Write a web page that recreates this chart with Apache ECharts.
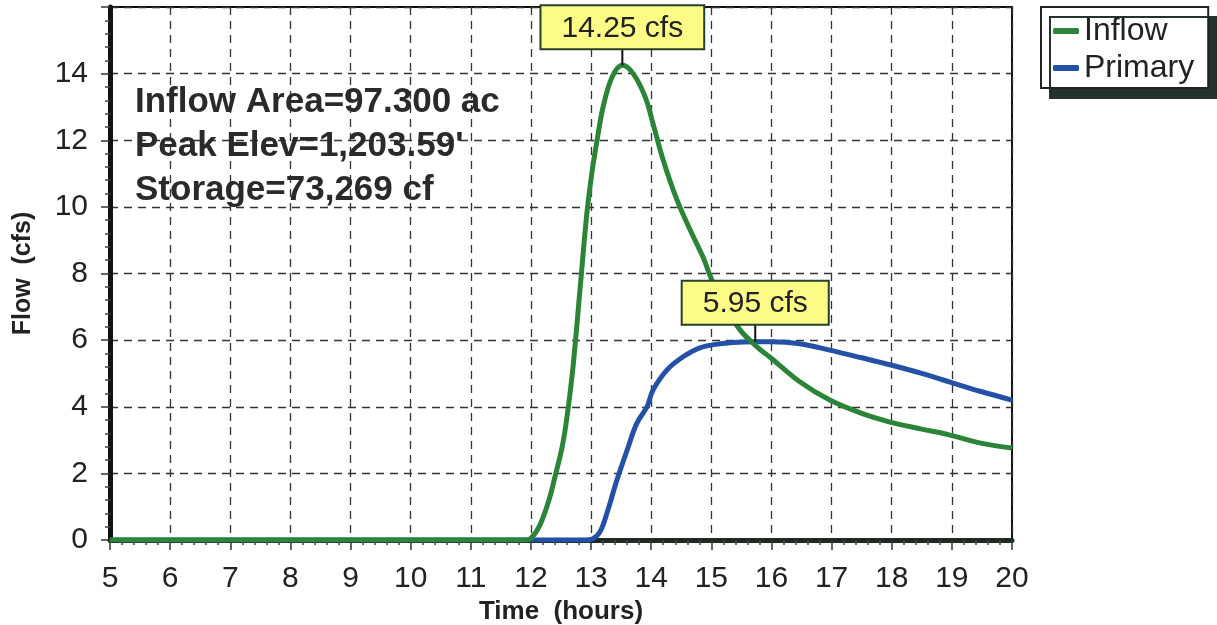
<!DOCTYPE html>
<html>
<head>
<meta charset="utf-8">
<script src="https://cdn.jsdelivr.net/npm/echarts@6/dist/echarts.min.js"></script>
<style>
html,body{margin:0;padding:0;background:#fff;}
#c{width:1217px;height:625px;}
</style>
</head>
<body>
<div id="c"></div>
<script>
// ---- data ----
const seriesNames = ['Inflow', 'Primary'];
const inflowTime = [5, 6, 7, 8, 9, 10, 11, 11.9, 12.0, 12.15, 12.3, 12.4, 12.52, 12.6, 12.7, 12.82, 12.93, 13.02, 13.1, 13.2, 13.35, 13.52, 13.7, 13.9, 14.03, 14.2, 14.43, 14.65, 14.86, 15.01, 15.2, 15.48, 15.76, 16.0, 16.47, 16.97, 17.5, 17.97, 18.5, 18.97, 19.5, 20];
const inflowFlow = [0, 0, 0, 0, 0, 0, 0, 0, 0.05, 0.45, 1.2, 1.9, 2.8, 3.7, 5.2, 7.6, 9.8, 11.1, 12.0, 13.0, 13.9, 14.25, 14.0, 13.3, 12.5, 11.4, 10.2, 9.3, 8.5, 7.8, 7.1, 6.3, 5.8, 5.45, 4.75, 4.2, 3.8, 3.54, 3.33, 3.15, 2.9, 2.76];
const primaryTime = [5, 6, 7, 8, 9, 10, 11, 12, 12.9, 13.02, 13.15, 13.28, 13.43, 13.6, 13.76, 13.93, 14.03, 14.26, 14.53, 14.81, 15.1, 15.36, 15.73, 16.0, 16.47, 16.97, 17.5, 17.97, 18.5, 18.97, 19.5, 20];
const primaryFlow = [0, 0, 0, 0, 0, 0, 0, 0, 0, 0.03, 0.25, 0.9, 1.8, 2.7, 3.5, 4.0, 4.5, 5.1, 5.5, 5.77, 5.88, 5.93, 5.95, 5.95, 5.89, 5.7, 5.47, 5.26, 5.0, 4.74, 4.45, 4.2];
const inflowPeak = [13.52, 14.25];
const primaryPeak = [15.73, 5.95];
const peakLabels = ['14.25 cfs', '5.95 cfs'];
const infoLines = ['Inflow Area=97.300 ac', "Peak Elev=1,203.59'", 'Storage=73,269 cf'];
const xName = 'Time  (hours)';
const yName = 'Flow  (cfs)';

const zip = (xs, ys) => xs.map((x, i) => [x, ys[i]]);
const FONT = '"Liberation Sans", Arial, sans-serif';

const peakLabel = (txt) => ({
  show: true,
  position: 'top',
  distance: 0,
  formatter: txt,
  fontFamily: FONT,
  fontSize: 30,
  color: '#222',
  backgroundColor: '#fbfb86',
  borderColor: '#25402a',
  borderWidth: 2,
  padding: [7, 20, 5, 20]
});

const chart = echarts.init(document.getElementById('c'), null, {renderer: 'canvas'});
chart.setOption({
  animation: false,
  backgroundColor: '#fff',
  title: {
    text: infoLines.join('\n'),
    left: 130,
    top: 75,
    textStyle: {fontFamily: FONT, fontSize: 35, fontWeight: 'bold', lineHeight: 44, color: '#2a2a2a'}
  },
  legend: {
    orient: 'vertical',
    left: 1041,
    top: 7,
    padding: [8, 14, 4, 12],
    itemGap: 5,
    itemWidth: 26,
    itemHeight: 6,
    itemTextGap: 9,
    icon: 'roundRect',
    backgroundColor: '#fff',
    borderColor: '#222',
    borderWidth: 2,
    shadowColor: '#23322a',
    shadowBlur: 0,
    shadowOffsetX: 9,
    shadowOffsetY: 10,
    textStyle: {fontFamily: FONT, fontSize: 32, color: '#222'},
    data: seriesNames
  },
  grid: {
    left: 110, right: 205, top: 7, bottom: 85,
    outerBoundsMode: 'none', containLabel: false,
    show: true, borderColor: '#111', borderWidth: 2, backgroundColor: 'transparent'
  },
  xAxis: {
    type: 'value', min: 5, max: 20, interval: 1,
    name: xName, nameLocation: 'middle', nameGap: 50,
    nameTextStyle: {fontFamily: FONT, fontSize: 26, fontWeight: 'bold', color: '#222'},
    axisLine: {show: true, onZero: false, lineStyle: {color: '#1f2a22', width: 5}},
    axisTick: {show: true, length: 10, lineStyle: {color: '#333', width: 1.5}},
    minorTick: {show: true, splitNumber: 5, length: 5, lineStyle: {color: '#444', width: 1.5}},
    axisLabel: {fontFamily: FONT, fontSize: 30, color: '#222', margin: 24},
    splitLine: {show: true, lineStyle: {color: '#333', type: [8, 6], width: 1.3}}
  },
  yAxis: {
    type: 'value', min: 0, max: 16, interval: 2,
    name: yName, nameLocation: 'middle', nameGap: 74,
    nameTextStyle: {fontFamily: FONT, fontSize: 25, fontWeight: 'bold', color: '#222'},
    axisLine: {show: true, lineStyle: {color: '#111', width: 5}},
    axisTick: {show: true, length: 9, lineStyle: {color: '#333', width: 1.5}},
    minorTick: {show: true, splitNumber: 5, length: 5, lineStyle: {color: '#444', width: 1.5}},
    axisLabel: {fontFamily: FONT, fontSize: 30, color: '#222', margin: 22, showMaxLabel: false},
    splitLine: {show: true, lineStyle: {color: '#333', type: [8, 6], width: 1.3}}
  },
  series: [
    {
      name: seriesNames[0], type: 'line', data: zip(inflowTime, inflowFlow),
      showSymbol: false, smooth: 0.35, clip: true,
      lineStyle: {color: '#2b8438', width: 5}, itemStyle: {color: '#2b8438'}, z: 3,
      markPoint: {
        z: 10,
        symbol: 'rect', symbolSize: [2, 17], symbolOffset: [0, '-50%'],
        itemStyle: {color: '#111'},
        label: peakLabel(peakLabels[0]),
        data: [{coord: inflowPeak}]
      }
    },
    {
      name: seriesNames[1], type: 'line', data: zip(primaryTime, primaryFlow),
      showSymbol: false, smooth: 0.35, clip: true,
      lineStyle: {color: '#2451a6', width: 5}, itemStyle: {color: '#2451a6'}, z: 2,
      markPoint: {
        z: 10,
        symbol: 'rect', symbolSize: [2, 18], symbolOffset: [0, '-50%'],
        itemStyle: {color: '#111'},
        label: peakLabel(peakLabels[1]),
        data: [{coord: primaryPeak}]
      }
    }
  ]
});
</script>
</body>
</html>
